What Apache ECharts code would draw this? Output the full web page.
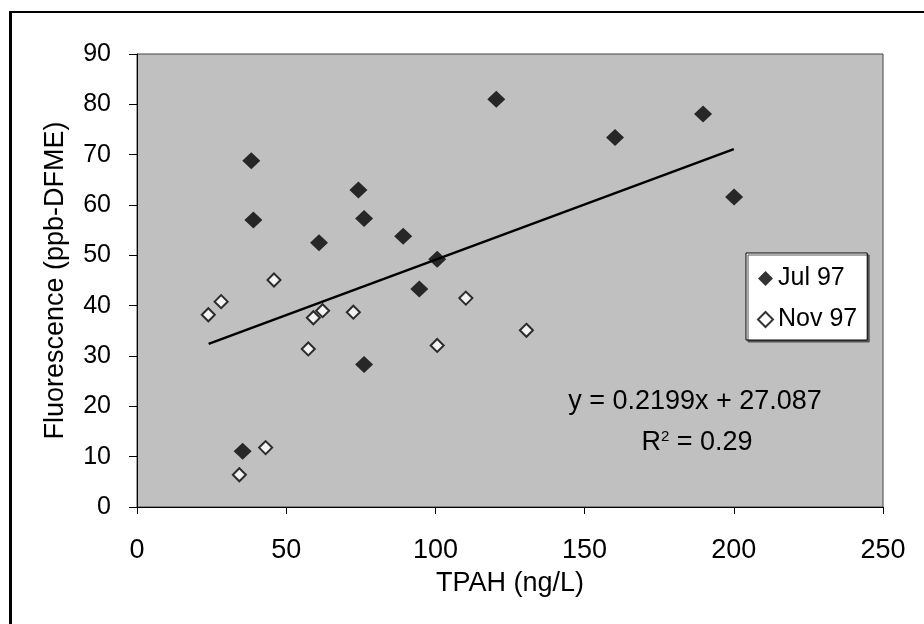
<!DOCTYPE html>
<html>
<head>
<meta charset="utf-8">
<script src="https://cdn.jsdelivr.net/npm/echarts@6/dist/echarts.min.js"></script>
<style>
  html, body { margin: 0; padding: 0; background: #fff; }
  #chart { width: 924px; height: 624px; }
</style>
</head>
<body>
<div id="chart"></div>
<script>
// Jul 97 samples (TPAH ng/L, fluorescence ppb-DFME)
var julX = [120.4, 38.3, 74.2, 39.0, 76.1, 61.0, 89.2, 100.6, 94.6, 160.2, 189.7, 200.1, 76.1, 35.4];
var julY = [81.0, 68.8, 63.0, 57.0, 57.3, 52.5, 53.8, 49.2, 43.3, 73.4, 78.1, 61.6, 28.3, 11.1];

// Nov 97 samples
var novX = [45.9, 28.2, 23.9, 59.1, 62.2, 72.5, 110.2, 57.4, 100.6, 43.1, 34.3, 130.5];
var novY = [45.1, 40.8, 38.2, 37.6, 39.0, 38.7, 41.5, 31.4, 32.1, 11.8, 6.4, 35.1];

// trend line end points
var trendX = [24, 200];
var trendY = [32.4, 71.1];

var xTicks = [0, 50, 100, 150, 200, 250];
var yTicks = [0, 10, 20, 30, 40, 50, 60, 70, 80, 90];

var eqText = 'y = 0.2199x + 27.087';
var r2Text = '0.29';

function pairs(xs, ys) {
    var out = [];
    for (var i = 0; i < xs.length; i++) out.push([xs[i], ys[i]]);
    return out;
}

var font = 'Liberation Sans, Arial, sans-serif';
var chart = echarts.init(document.getElementById('chart'));

var option = {
    animation: false,
    textStyle: { fontFamily: font, color: '#000' },
    grid: {
        left: 137, right: 41, top: 54, bottom: 117,
        show: true,
        backgroundColor: '#c0c0c0',
        borderColor: '#444',
        borderWidth: 1
    },
    legend: {
        orient: 'vertical',
        left: 746,
        top: 253,
        data: ['Jul 97', 'Nov 97'],
        backgroundColor: '#fff',
        borderColor: '#000',
        borderWidth: 1,
        shadowColor: '#555',
        shadowOffsetX: 2,
        shadowOffsetY: 2,
        padding: [13, 10, 8, 11],
        itemGap: 16,
        itemWidth: 15,
        itemHeight: 15,
        itemStyle: { borderWidth: 2 },
        textStyle: { fontFamily: font, fontSize: 25, color: '#000' }
    },
    xAxis: {
        type: 'value',
        min: xTicks[0],
        max: xTicks[xTicks.length - 1],
        interval: 50,
        name: 'TPAH (ng/L)',
        nameLocation: 'middle',
        nameGap: 63,
        nameTextStyle: { fontFamily: font, fontSize: 27, color: '#000' },
        axisLine: { lineStyle: { color: '#000', width: 1 } },
        axisTick: { show: true, length: 7, lineStyle: { color: '#000' } },
        axisLabel: { fontFamily: font, fontSize: 27, color: '#000', margin: 30 },
        splitLine: { show: false }
    },
    yAxis: {
        type: 'value',
        min: yTicks[0],
        max: yTicks[yTicks.length - 1],
        interval: 10,
        name: 'Fluorescence (ppb-DFME)',
        nameLocation: 'middle',
        nameGap: 68,
        nameTextStyle: { fontFamily: font, fontSize: 27, color: '#000' },
        axisLine: { show: true, lineStyle: { color: '#000', width: 1 } },
        axisTick: { show: true, length: 8, lineStyle: { color: '#000' } },
        axisLabel: { fontFamily: font, fontSize: 25, color: '#000', margin: 26 },
        splitLine: { show: false }
    },
    series: [
        {
            name: 'trend',
            type: 'line',
            data: pairs(trendX, trendY),
            symbol: 'none',
            lineStyle: { color: '#000', width: 2.5 },
            z: 1
        },
        {
            name: 'Jul 97',
            type: 'scatter',
            data: pairs(julX, julY),
            symbol: 'diamond',
            symbolSize: [18, 17],
            itemStyle: { color: '#000' },
            z: 3
        },
        {
            name: 'Nov 97',
            type: 'scatter',
            data: pairs(novX, novY),
            symbol: 'diamond',
            symbolSize: 13,
            itemStyle: { color: '#fff', borderColor: '#000', borderWidth: 2 },
            z: 3
        }
    ],
    graphic: [
        // outer frame (left and top edges)
        { type: 'rect', shape: { x: 9, y: 11, width: 3, height: 613 }, style: { fill: '#000' } },
        { type: 'rect', shape: { x: 9, y: 11, width: 915, height: 2 }, style: { fill: '#000' } },
        {
            type: 'text', x: 695, y: 402,
            style: {
                text: eqText, fontFamily: font, fontSize: 27, fill: '#000',
                align: 'center', verticalAlign: 'middle'
            }
        },
        {
            type: 'text', x: 697, y: 443,
            style: {
                text: '{r|R}{s|2}{r| = ' + r2Text + '}',
                align: 'center', verticalAlign: 'middle',
                rich: {
                    r: { fontFamily: font, fontSize: 27, color: '#000' },
                    s: { fontFamily: font, fontSize: 15, color: '#000', verticalAlign: 'top', padding: [0, 0, 13, 0] }
                }
            }
        }
    ]
};

chart.setOption(option);
</script>
</body>
</html>
